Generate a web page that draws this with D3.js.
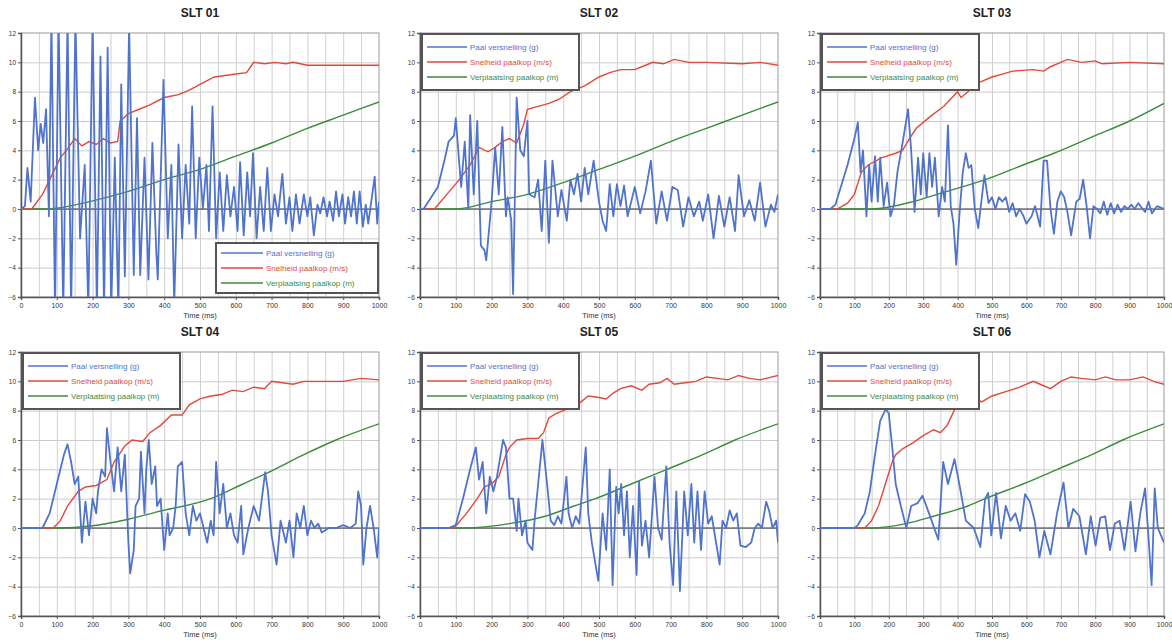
<!DOCTYPE html>
<html>
<head>
<meta charset="utf-8">
<script src="https://cdn.jsdelivr.net/npm/d3@7"></script>
<style>
  html, body { margin: 0; padding: 0; background: #fff; }
  svg { display: block; font-family: "Liberation Sans", Arial, sans-serif; }
</style>
</head>
<body>
<svg id="chart" width="1172" height="640"></svg>
<script>
// SLT 01..06 — versnelling, snelheid en verplaatsing paalkop

const titles = ["SLT 01", "SLT 02", "SLT 03", "SLT 04", "SLT 05", "SLT 06"];
const seriesNames = ["Paal versnelling (g)", "Snelheid paalkop (m/s)", "Verplaatsing paalkop (m)"];
const xTicks = [0, 100, 200, 300, 400, 500, 600, 700, 800, 900, 1000];
const yTicks = [-6, -4, -2, 0, 2, 4, 6, 8, 10, 12];

// [tijd ms, waarde]
const blue01 = [[0,0],[11,0.2],[18,2.8],[27,0.5],[39,7.6],[48,4],[55,5.8],[62,4.5],[70,6.8],[78,-0.5],
  [85,13],[95,-7],[105,13],[118,-7],[130,13],[140,-7],[152,13],[165,-2],[178,3],[188,-7],[200,13],
  [212,-7],[222,10.4],[232,-7],[242,11],[252,-7],[262,3.5],[272,-7],[280,8.5],[290,-4.6],[302,12.5],
  [315,-4.5],[324,6.2],[333,-4.5],[345,3.5],[356,-4.8],[367,4.5],[378,-3],[382,-4.8],[398,8.8],
  [410,-2],[420,3],[428,-6.5],[440,4.4],[450,-2],[460,3],[470,-1],[478,7],[488,-2],[498,3.5],[508,0],
  [518,3],[525,-1.5],[535,7],[545,-2],[555,2.5],[565,-1.5],[575,2.3],[585,-0.5],[595,1.5],[605,-1.5],
  [612,3.2],[622,-1.8],[632,2.5],[640,-0.5],[648,3.8],[658,-2],[668,1.5],[678,-1.5],[688,2.8],
  [698,-1.5],[708,1],[718,-0.5],[730,2.4],[740,-1],[750,0.8],[758,-1.5],[768,1],[778,-1],[790,1],
  [800,-0.5],[808,0.8],[818,-1.8],[828,0.3],[836,-0.3],[845,0.8],[855,-0.5],[862,0.5],[872,-0.8],
  [880,1.2],[888,-0.5],[898,1],[905,-1],[914,0.8],[922,-0.5],[930,1.2],[938,-1],[946,1.2],[955,-1.2],
  [963,0.3],[970,-1],[980,0.8],[988,2.2],[995,-1],[1000,0.5]];
const red01 = [[0,0],[30,0],[60,1],[90,2.5],[110,3.5],[130,4.1],[150,4.8],[170,4.3],[190,4.6],
  [210,4.4],[230,4.8],[250,4.5],[270,4.6],[277,6],[300,6.5],[330,6.8],[360,7.1],[400,7.6],[440,7.8],
  [470,8.1],[500,8.5],[540,9],[570,9.1],[600,9.2],[630,9.3],[650,10],[680,9.9],[710,10],[740,9.9],
  [760,10],[800,9.8],[850,9.8],[900,9.8],[1000,9.8]];
const green01 = [[0,0],[80,0],[100,0.05],[200,0.55],[300,1.2],[400,2],[500,2.7],[600,3.6],
  [700,4.5],[800,5.5],[900,6.4],[1000,7.3]];

const blue02 = [[0,0],[10,0],[50,1.5],[70,3.5],[80,4.6],[95,5],[100,6.2],[110,3],[115,1.5],[125,4.6],
  [135,0],[140,6.4],[150,1],[160,6],[170,-2.5],[180,-2.8],[185,-3.5],[200,0.5],[210,4.2],[220,1],
  [230,5.6],[240,-0.5],[245,0.8],[255,-0.8],[260,-5.8],[270,7.6],[280,4],[290,3.6],[300,6],[305,1],
  [320,0.8],[330,2],[340,-1.5],[350,3.3],[360,-2.3],[370,3.3],[385,-0.5],[395,1.3],[410,-0.8],
  [420,2],[430,1],[440,2.4],[450,0.5],[460,2.8],[470,1],[485,3.3],[500,0.5],[510,-0.8],[520,-1.5],
  [530,1.7],[540,-0.5],[550,1.7],[560,0.2],[570,1.6],[580,-0.5],[600,1.5],[615,-0.3],[630,1.2],
  [645,3.3],[660,-1],[675,1.2],[690,-0.8],[705,1.5],[720,1.3],[735,-1.2],[750,0.8],[765,-0.5],
  [780,0.5],[790,-0.8],[805,1],[820,-2],[835,0.9],[850,-1.2],[865,0.8],[880,-1.5],[890,2.3],
  [905,-0.5],[920,0.6],[935,-0.8],[950,1.8],[965,-1.2],[980,0.3],[990,-0.2],[1000,1]];
const red02 = [[0,0],[40,0],[75,1],[110,2],[140,3],[165,4.2],[190,3.9],[210,4.2],[230,4.6],[250,4.8],
  [270,4.5],[290,5.8],[300,6.8],[330,7],[360,7.2],[390,7.5],[420,8],[460,8.4],[500,9],[530,9.3],
  [560,9.5],[600,9.5],[620,9.7],[650,10],[680,9.9],[710,10.2],[750,10],[800,10],[900,9.9],[950,10],
  [1000,9.8]];
const green02 = [[0,0],[100,0],[200,0.5],[300,1],[400,1.8],[500,2.7],[600,3.6],[700,4.6],
  [800,5.5],[900,6.4],[1000,7.3]];

const blue03 = [[0,0],[30,0],[45,0.3],[80,3],[100,4.8],[110,5.9],[118,2.5],[125,4],[135,-0.5],[143,3],
  [150,0.5],[160,3.6],[168,0.5],[175,3.5],[185,0.2],[195,1.8],[205,-0.5],[215,0.3],[225,2.5],[240,4.5],
  [256,6.8],[265,4],[275,-0.2],[285,3.5],[293,1],[300,3.8],[310,0.8],[318,3.8],[326,1.5],[334,3.5],
  [345,-0.5],[355,1.5],[363,0.5],[372,5.7],[380,0.2],[388,-1],[396,-3.8],[405,-0.5],[415,2.5],
  [424,3.8],[432,2.8],[440,3],[450,0],[460,-1.3],[478,2.3],[490,0.4],[500,0.8],[510,0],[520,0.8],
  [530,0.5],[540,0.8],[550,-0.2],[560,0.4],[570,-0.5],[580,0],[590,-0.4],[600,-1],[615,-0.5],
  [625,0.2],[640,-1.2],[650,3.3],[660,3.3],[670,0],[680,-1.7],[690,0.5],[700,1.2],[710,0.8],
  [720,-0.3],[730,-1.8],[745,0.5],[755,0.7],[765,2],[775,0.2],[785,-2],[795,0.2],[805,0],[815,-0.3],
  [825,0.5],[835,-0.4],[845,0.4],[855,-0.3],[865,0.3],[875,-0.2],[885,0.2],[895,0],[905,0.3],
  [915,0],[925,0.4],[935,0.1],[945,-0.2],[955,0.5],[965,-0.3],[980,0.2],[1000,0]];
const red03 = [[0,0],[50,0],[80,0.4],[100,1],[120,2.5],[140,3],[180,3.5],[220,3.8],[240,4],[260,4.8],
  [280,5.5],[320,6.3],[360,7],[380,7.5],[400,8],[410,7.6],[430,8],[450,8.5],[470,8.7],[500,9],
  [530,9.2],[560,9.4],[620,9.5],[650,9.4],[670,9.7],[700,10],[720,10.2],[760,10],[800,10.1],
  [820,9.9],[900,10],[1000,9.9]];
const green03 = [[0,0],[150,0],[270,0.5],[340,1],[480,2],[590,3],[680,3.8],[800,5],[900,6],[1000,7.2]];

const blue04 = [[0,0],[60,0],[80,1],[100,3],[120,5],[130,5.7],[140,4.5],[150,3],[160,3.5],[170,-1],
  [180,1.8],[190,-0.5],[200,2],[210,1],[215,2.5],[225,4],[235,3.5],[240,6.8],[250,4.5],[260,2.5],
  [270,5.5],[280,2.5],[290,5],[300,-1],[305,-3.1],[315,-1.5],[320,1.5],[330,2],[335,5.2],[345,1],
  [350,4],[357,6],[365,3],[375,4.2],[380,1.5],[390,2],[400,-1.5],[410,1],[415,-0.5],[425,0],
  [432,1.5],[438,4.2],[450,4.5],[460,1],[470,-0.5],[480,1.5],[490,0.5],[500,1],[510,0],[520,-1],
  [530,0.5],[538,-0.5],[545,4.5],[555,1],[565,3],[575,0],[585,1],[595,-0.5],[605,-1],[615,1.5],
  [621,-1.8],[635,0],[650,1.5],[665,0.5],[682,3.8],[690,2.5],[700,-0.5],[714,-2.5],[725,0.5],
  [740,-1],[750,0.5],[761,-2],[770,1],[780,0],[790,1.5],[800,-0.5],[810,0.5],[820,0],[830,0.3],
  [840,-0.3],[860,0],[880,0],[900,0.2],[920,0],[935,0.3],[942,2.5],[950,1.5],[956,-2.5],[965,0],
  [975,1.5],[985,0],[995,-2],[1000,0]];
const red04 = [[0,0],[90,0],[110,0.5],[130,1.5],[160,2.5],[180,2.8],[210,2.9],[240,3.3],[260,4.5],
  [290,5.6],[310,6],[340,5.9],[360,6.5],[390,7],[420,7.7],[450,7.7],[470,8.4],[500,8.8],[530,9],
  [560,9.1],[590,9.4],[620,9.3],[650,9.6],[680,9.5],[700,10],[730,9.9],[760,9.8],[790,10],
  [820,10],[900,10],[950,10.2],[1000,10.1]];
const green04 = [[0,0],[100,0],[200,0.15],[300,0.6],[380,1.1],[530,2],[620,3],[700,3.9],[790,5],
  [880,6],[1000,7.1]];

const blue05 = [[0,0],[80,0],[100,0.2],[120,2],[140,4],[156,5.5],[165,3.3],[175,4.5],[185,1],
  [195,3.5],[205,2.5],[215,3.5],[232,6],[240,5.5],[250,2],[260,2],[270,-0.2],[275,2],[285,-0.5],
  [295,0.5],[300,-1],[314,-1.5],[320,0.5],[342,6],[355,3],[365,0.5],[375,0.2],[385,0.8],[395,0.3],
  [409,3.5],[415,1],[425,0],[435,0.8],[445,0.3],[463,5.5],[470,1],[480,-1],[498,-3.6],[510,1],
  [520,-1.5],[530,4],[538,-3.9],[548,2.8],[555,1],[562,3],[570,-0.5],[578,2.5],[586,-2],[595,1.5],
  [605,-3.2],[612,3.2],[620,-1.2],[630,0.5],[640,-2],[655,3.5],[665,0],[675,-0.8],[688,4.2],
  [697,-1],[707,-3.9],[716,2.5],[726,-4.3],[738,2.5],[748,-0.5],[758,3],[766,-1],[775,2.5],
  [785,-1.5],[795,2.5],[805,0.3],[815,0.8],[837,-2.5],[845,0.5],[855,0],[865,1.2],[875,0.5],
  [885,1],[895,-1.2],[910,-1.3],[925,-1],[935,0],[945,0.3],[955,0],[967,1.8],[975,1.2],[985,0],
  [995,0.5],[1000,-1]];
const red05 = [[0,0],[95,0],[130,1],[160,2],[180,2.8],[200,3],[220,3.5],[240,5],[250,5.5],[270,6],
  [300,6.1],[330,6.1],[345,6.5],[360,7.5],[380,7.8],[400,8],[430,8.3],[450,8.6],[470,9],[500,8.9],
  [520,8.8],[540,9.2],[560,9.5],[590,9.7],[620,9.4],[640,9.8],[670,9.9],[690,10.2],[710,9.8],
  [740,9.9],[770,10],[800,10.3],[830,10.2],[860,10.1],[890,10.4],[920,10.2],[950,10.1],[1000,10.4]];
const green05 = [[0,0],[130,0],[250,0.3],[350,0.8],[430,1.5],[490,2],[590,3],[690,4],[790,5],
  [880,6],[1000,7.1]];

const blue06 = [[0,0],[100,0],[110,0.2],[130,1],[145,2.5],[160,5],[175,7.3],[191,8.1],[200,7.8],
  [210,5.5],[220,3],[235,1.5],[251,0],[265,1.5],[284,1.7],[298,2.2],[317,1],[344,-0.8],[358,4.5],
  [372,3],[391,4.7],[405,3],[424,0.5],[447,0],[466,-1.3],[480,2],[489,2.4],[498,-0.5],[512,2.4],
  [526,-0.7],[540,1.5],[554,0.5],[568,1],[582,-0.2],[596,2.3],[610,1.8],[624,0.5],[638,-2],
  [652,-0.2],[670,-1.8],[689,1],[708,3.1],[722,0],[736,1.3],[754,0.8],[773,-1.8],[787,0.8],
  [801,-1.2],[815,0.7],[829,0.8],[843,-1.5],[857,0.3],[871,0.5],[885,-1.5],[903,1.8],[917,-1.6],
  [931,1],[945,2.7],[954,-0.3],[964,-3.9],[973,2.7],[982,0],[1000,-1]];
const red06 = [[0,0],[130,0],[150,0.5],[170,1.5],[190,3],[210,4.5],[220,5],[240,5.4],[270,5.8],
  [300,6.3],[330,6.7],[350,6.5],[370,7],[390,8],[410,9],[420,9.5],[440,9],[470,8.6],[500,9],
  [540,9.3],[580,9.6],[620,10],[640,9.8],[670,9.5],[700,10],[730,10.3],[760,10.2],[800,10.1],
  [830,10.3],[860,10.1],[900,10.1],[940,10.3],[970,10],[1000,9.8]];
const green06 = [[0,0],[150,0],[250,0.3],[330,0.8],[430,1.5],[480,2],[590,3],[690,4],[790,5],
  [880,6],[1000,7.1]];

const blueSeries  = [blue01, blue02, blue03, blue04, blue05, blue06];
const redSeries   = [red01, red02, red03, red04, red05, red06];
const greenSeries = [green01, green02, green03, green04, green05, green06];

const colors = { blue: "#5073cc", red: "#e2493a", green: "#3d8c3d" };

// paneel posities (plotgebied) — derde kolom iets smaller zodat "1000" past
const colLeft  = [21, 420, 820];
const colWidth = [358, 358, 344];
const rowTop   = [33, 352];
const plotH = 264;

const svg = d3.select("#chart");

titles.forEach((title, i) => {
  const col = i % 3, row = Math.floor(i / 3);
  const plotW = colWidth[col];
  const g = svg.append("g")
    .attr("transform", `translate(${colLeft[col]},${rowTop[row]})`);

  const x = d3.scaleLinear().domain([0, 1000]).range([0, plotW]);
  const y = d3.scaleLinear().domain([-6, 12]).range([plotH, 0]);

  g.append("rect")
    .attr("width", plotW).attr("height", plotH)
    .attr("fill", "#fff");

  // grid: verticaal per 50 ms, horizontaal per 2
  g.append("g")
    .attr("transform", `translate(0,${plotH})`)
    .call(d3.axisBottom(x).tickValues(d3.range(50, 1000, 50)).tickSize(-plotH).tickFormat(""))
    .call(a => a.select(".domain").remove())
    .selectAll("line").attr("stroke", "#d0d0d0");

  g.append("g")
    .call(d3.axisLeft(y).tickValues(yTicks.slice(1, -1)).tickSize(-plotW).tickFormat(""))
    .call(a => a.select(".domain").remove())
    .selectAll("line").attr("stroke", "#cbcbcb");

  g.append("rect")
    .attr("width", plotW).attr("height", plotH)
    .attr("fill", "none").attr("stroke", "#9a9a9a").attr("stroke-width", 1);

  // assen
  const xAxis = g.append("g")
    .attr("transform", `translate(0,${plotH})`)
    .call(d3.axisBottom(x).tickValues(xTicks).tickFormat(d3.format("d")).tickSize(3).tickPadding(3));
  xAxis.select(".domain").attr("stroke", "#555").attr("stroke-width", 1.5);
  xAxis.selectAll("line").attr("stroke", "#555");
  xAxis.selectAll("text").attr("font-size", 7).attr("fill", "#333");

  const yAxis = g.append("g")
    .call(d3.axisLeft(y).tickValues(yTicks).tickSize(3).tickPadding(2));
  yAxis.select(".domain").attr("stroke", "#555").attr("stroke-width", 1.5);
  yAxis.selectAll("line").attr("stroke", "#555");
  yAxis.selectAll("text").attr("font-size", 6.5).attr("fill", "#333");

  // nullijn
  g.append("line")
    .attr("x1", 0).attr("x2", plotW)
    .attr("y1", y(0)).attr("y2", y(0))
    .attr("stroke", "#333").attr("stroke-width", 1);

  const clipId = "clip" + i;
  g.append("clipPath").attr("id", clipId)
    .append("rect").attr("width", plotW).attr("height", plotH);

  const lineLin = d3.line().x(d => x(d[0])).y(d => y(d[1]));
  const lineSmooth = d3.line().x(d => x(d[0])).y(d => y(d[1])).curve(d3.curveMonotoneX);

  const lines = g.append("g").attr("clip-path", `url(#${clipId})`);
  lines.append("path").datum(greenSeries[i])
    .attr("d", lineSmooth).attr("fill", "none")
    .attr("stroke", colors.green).attr("stroke-width", 1.4);
  lines.append("path").datum(redSeries[i])
    .attr("d", lineLin).attr("fill", "none")
    .attr("stroke", colors.red).attr("stroke-width", 1.4);
  lines.append("path").datum(blueSeries[i])
    .attr("d", lineLin).attr("fill", "none")
    .attr("stroke", colors.blue).attr("stroke-width", 1.8)
    .attr("stroke-linejoin", "round");

  // legenda — SLT 01 rechtsonder, rest linksboven
  const leg = i === 0
    ? { x: 195, y: 210, w: 162, h: 50, lineLen: 42, rowGap: 15 }
    : { x: 2, y: 1, w: 157, h: 56, lineLen: 40, rowGap: 15 };
  const lg = g.append("g").attr("transform", `translate(${leg.x},${leg.y})`);
  lg.append("rect")
    .attr("width", leg.w).attr("height", leg.h)
    .attr("fill", "#fff").attr("stroke", "#555").attr("stroke-width", 2);
  const legColors = [colors.blue, colors.red, colors.green];
  seriesNames.forEach((name, k) => {
    const yy = (i === 0 ? 10 : 13) + k * leg.rowGap;
    lg.append("line")
      .attr("x1", 5).attr("x2", 5 + leg.lineLen)
      .attr("y1", yy).attr("y2", yy)
      .attr("stroke", legColors[k]).attr("stroke-width", 1.4);
    lg.append("text")
      .attr("x", 8 + leg.lineLen).attr("y", yy + 3)
      .attr("font-size", 8).attr("fill", legColors[k])
      .text(name);
  });

  // titel en as-label
  g.append("text")
    .attr("x", plotW / 2).attr("y", -16)
    .attr("text-anchor", "middle")
    .attr("font-size", 12).attr("font-weight", "bold").attr("fill", "#222")
    .text(title);

  g.append("text")
    .attr("x", plotW / 2).attr("y", plotH + 21)
    .attr("text-anchor", "middle")
    .attr("font-size", 7.5).attr("fill", "#333")
    .text("Time (ms)");
});
</script>
</body>
</html>
